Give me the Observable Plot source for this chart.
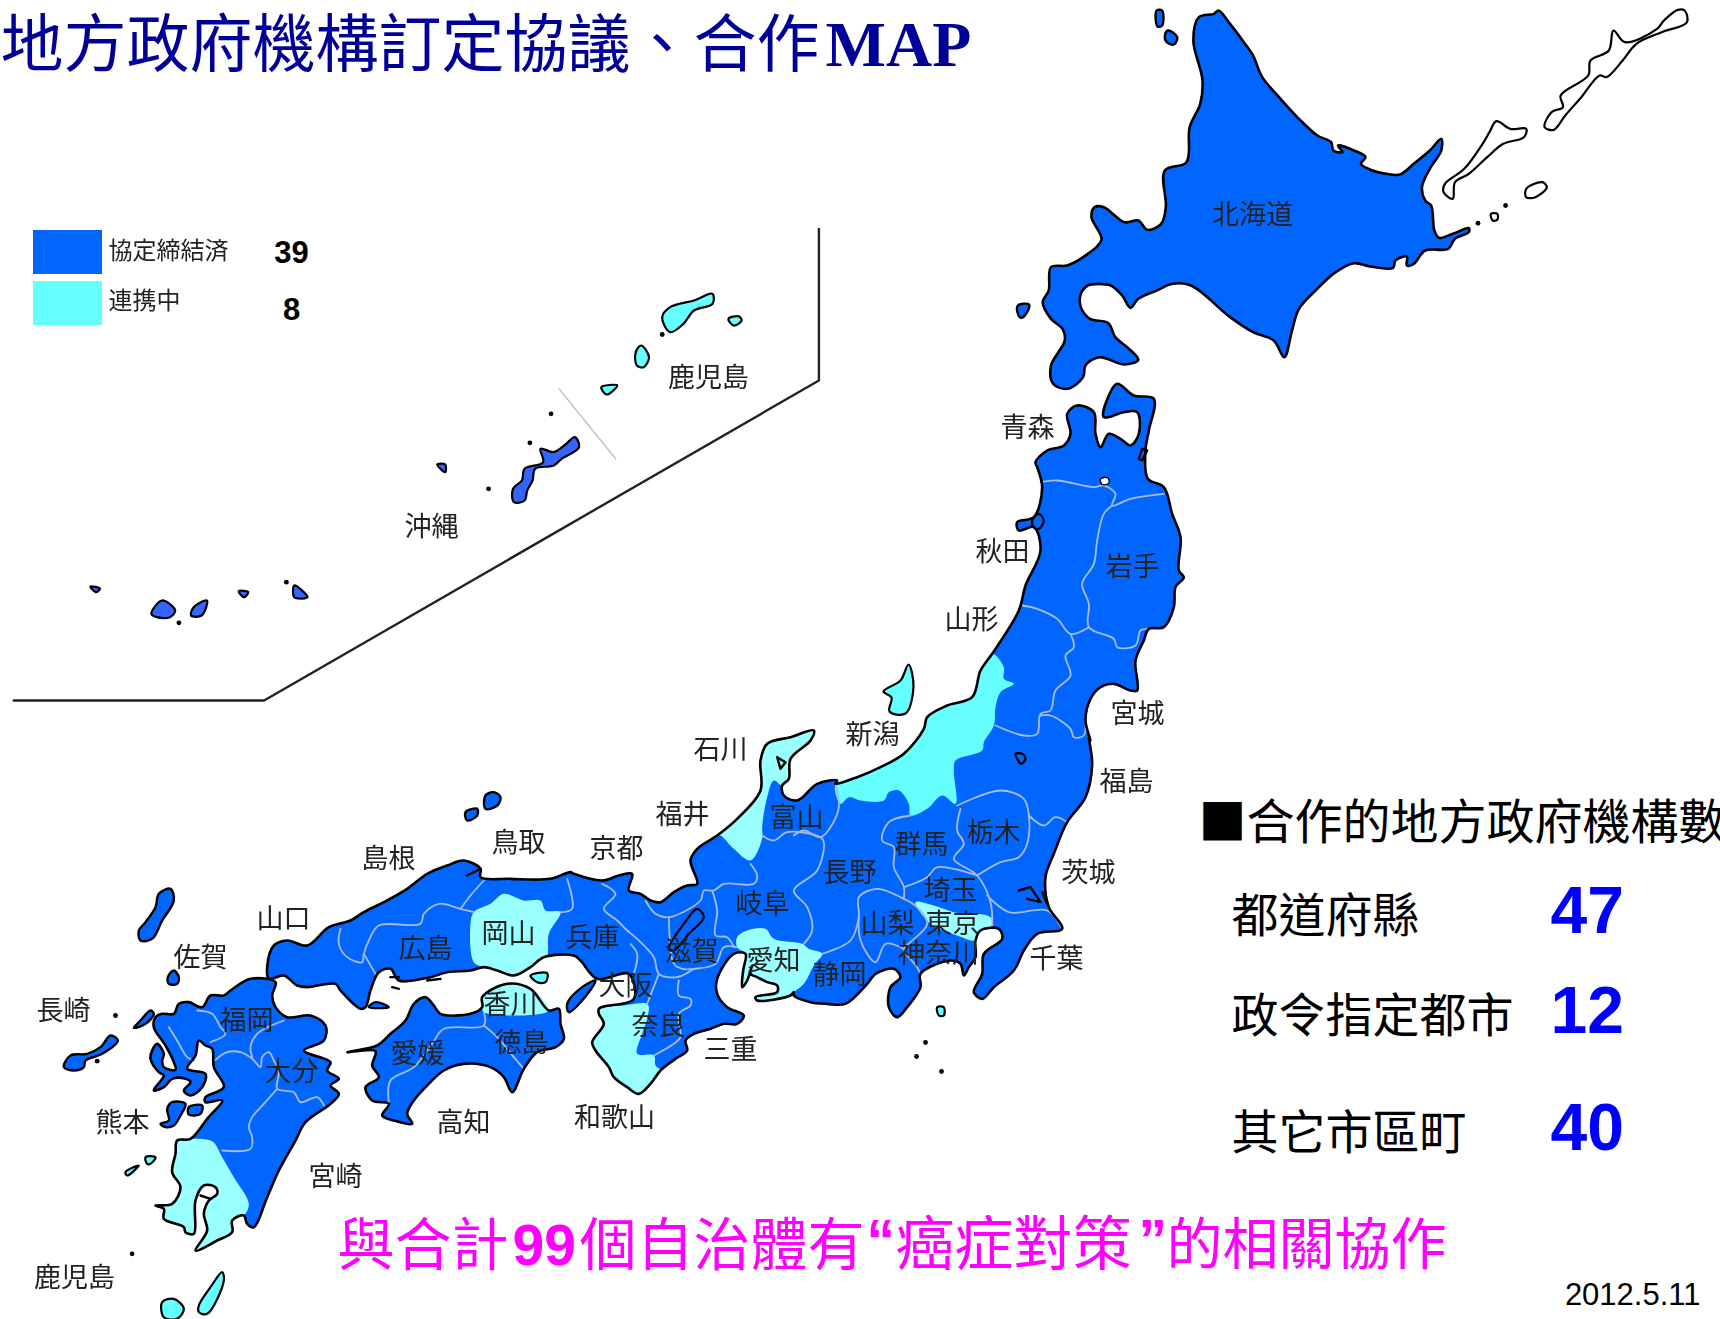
<!DOCTYPE html>
<html><head><meta charset="utf-8">
<script src="https://cdn.jsdelivr.net/npm/d3@7"></script>
<script src="https://cdn.jsdelivr.net/npm/@observablehq/plot@0.6"></script>
<style>
html,body{margin:0;padding:0;background:#fff}
svg{display:block}
g[aria-label="line"]{filter:blur(.5px)}
g[aria-label="text"][font-family*="CJK JP"]{filter:blur(.6px)}
</style></head><body><div id="chart"></div>
<script>
const read = (x0, y0, fx, fy, v) => { const o = []; for (let i = 0; i < v.length; i += 2) o.push([x0 + v[i] / fx, y0 + v[i + 1] / fy]); return o; };
const N = v => read(1000, 0, 2.178, 3, v);
const T = v => read(900, 370, 3, 3, v);
const K = v => read(760, 720, 3, 3, v);
const C = v => read(560, 720, 3, 3, v);
const W = v => read(250, 780, 3, 3, v);
const S = v => read(30, 870, 3, 3, v);
const O = v => read(0, 210, 1.889, 3, v);
const P = v => read(0, 0, 1, 1, v);
const R = v => read(570, 980, 3, 3, v);
const Q = v => read(130, 990, 3, 3, v);

const hokkaido = N([475,30,500,70,530,125,550,165,570,230,610,295,650,355,690,405,720,425,725,450,745,455,735,435,770,450,795,470,785,490,810,510,840,520,870,522,900,490,935,450,960,415,960,450,935,505,918,560,925,600,938,615,945,690,955,712,985,700,1020,683,1020,695,990,715,975,745,925,750,900,790,885,795,885,768,860,780,855,802,805,798,770,788,730,815,690,865,650,925,635,990,618,1070,595,1020,550,995,500,950,415,855,375,850,340,870,300,895,283,922,265,885,240,855,215,850,190,855,175,880,175,920,195,955,235,968,250,1010,280,1045,300,1078,270,1092,215,1070,185,1095,180,1130,145,1165,115,1150,110,1095,140,1020,135,985,110,955,92,905,105,870,110,800,145,795,180,770,220,718,198,650,205,620,225,620,270,665,300,660,320,688,350,670,360,620,358,510,405,485,412,380,435,310,440,240,420,120,432,50,465,40]);
const hokkaidoIslands = [
  N([340,30,352,30,352,75,342,78]), N([365,90,385,110,378,132,362,125,358,105]), N([38,915,62,912,58,935,45,952,38,940])
];
const northernIslands = [
  N([1475,28,1490,30,1495,65,1440,95,1385,130,1355,180,1320,230,1305,225,1265,290,1230,345,1205,388,1185,380,1200,335,1225,320,1220,285,1280,225,1285,180,1325,150,1335,90,1360,125,1430,85,1445,60]),
  N([1080,362,1110,385,1145,385,1140,410,1095,430,1060,470,1020,520,990,545,985,595,965,575,968,550,1010,505,1050,430,1065,395]),
  N([1145,565,1180,545,1190,560,1165,590,1145,590]),
  N([1068,640,1082,640,1082,658,1072,660])
];

// Honshu coast, clockwise from Tsugaru
const coastTohokuEast = T([405,275,440,240,490,225,510,190,500,130,530,105,580,125,585,190,600,230,625,190,660,205,690,225,715,190,710,125,670,125,610,140,625,75,650,40,700,75,760,85,745,180,735,240,742,325,790,350,815,430,840,500,835,600,850,620,825,650,820,710,790,770,745,775,730,810,705,870,710,960,690,960,640,940,600,950,570,985,555,1050,570,1110]);
const coastKanto = K([985,50,995,130,975,230,920,305,880,400,855,470,865,560,905,625,830,640,790,690,760,750,700,800,665,835,640,815,665,760,670,700,725,655,715,625,660,630,645,660,645,710,625,740,610,765,600,730,570,720,480,760,480,800,440,860,410,890,385,860,390,800,420,770,400,745,345,760,320,790,255,850,200,850,150,845,100,825]);
const coastAichi = C([700,815,690,825,590,840,585,830,650,815,650,795,620,785,590,770,570,760,575,735,560,780,545,800,548,750,555,700]);
const coastIse = [...C([520,700,470,775,470,820,500,860,550,885]), ...R([500,130,460,130,420,145,370,160,345,180,350,210,315,235])];
const coastKii = R([270,270,240,310,205,340,170,320,130,290,115,260,75,210,65,185,100,130,85,100,85,85]);
const coastOsaka = C([130,858,220,835,205,760,110,775,60,720]);
const coastSetouchi = W([970,525,880,530,840,560,790,585,740,570,700,560,660,570,590,575,540,590,445,600,420,565,385,575,360,630,345,680,330,685,270,630,255,610,170,620,140,615,100,585,55,595,50,560,70,495,110,480,170,495,235,440,300,420,340,395,400,365,470,325,530,280,590,255,640,240,690,265,690,290,780,295,900,295,960,275]);
const coastKyoto = C([40,460,125,480,175,465,215,460,205,510,240,520,270,540,300,545,340,515,380,495,410,490,390,420,410,385,470,345]);
const coastNoto = C([530,295,600,210,600,120,620,70,690,50,760,30,750,60,690,115,685,175,665,195]);
const coastToyama = C([670,225,710,240,770,190,830,180]);
const coastNiigata = K([225,190,290,170,360,140,430,100]).concat(T([70,1075,80,1040,140,1005,215,980,240,900,275,850]));
const coastTohokuWest = T([355,720,375,645,420,540,400,470,355,480,350,455,400,440,425,350,410,290]);
const honshu = [...coastTohokuEast, ...coastKanto, ...coastAichi, ...coastIse, ...coastKii, ...coastOsaka, ...coastSetouchi, ...coastKyoto, ...coastNoto, ...coastToyama, ...coastNiigata, ...coastTohokuWest];

const shikoku = W([380,795,420,760,465,720,490,670,525,650,550,675,570,700,660,700,695,680,695,650,770,610,840,625,895,690,925,685,930,730,940,775,915,800,860,815,820,865,785,935,760,890,720,860,640,850,580,870,530,915,490,960,470,1000,485,1030,430,1020,395,1005,415,970,365,960,345,920,385,890,365,855,375,812,290,815]);
const kyushuSouthCoast = S([605,1050,605,1085,560,1110,495,1140,530,1080,520,1030,535,990,560,970,555,950,520,945,495,990,490,1090,465,1085,460,1070,400,1045,400,1015,375,1005,425,1000,450,950,425,905,435,850,440,810,480,805]);
const kyushu = [...S([735,335,725,375,735,410,770,440,840,435,885,465,880,510,820,540,900,575,890,600,925,625,900,645,925,670,900,700,825,755,795,810,745,900,710,980,670,1070,650,1060,640,1035]), ...kyushuSouthCoast, ...S([530,745]), ...Q([275,330,225,335,225,320,280,290,250,230,245,175,225,165,205,150,195,195,170,235,225,250,215,290,180,315,160,300,180,275,165,265,125,265,100,290,70,300,75,290,100,255,85,245,60,205,65,180,80,160,100,190,95,210,100,230,135,238,130,215,105,165,70,110,75,80,95,70,130,70,145,40,175,35,215,50,240,15,280,15,300,0]), ...S([660,325])];

const blueIslands = [
  S([420,55,430,90,395,150,365,205,330,210,325,180,345,155,375,110,385,70]),
  S([430,300,445,320,440,340,415,340,412,320]),
  Q([60,60,70,70,45,100,10,112,30,90]),
  S([240,495,262,510,215,550,165,570,160,590,130,600,100,590,120,555,170,550,210,530]),
  Q([125,335,165,340,150,375,130,405,105,410,90,400,115,390,110,355]),
  Q([175,350,215,345,210,370,175,372]),
  C([105,780,65,840,25,875,20,850,65,800]),
  W([705,45,730,35,750,50,740,75,705,85]),
  W([645,95,680,85,680,105,650,120]),
  W([355,680,375,665,415,680])
];
const okinawaIslands = [
  O([1085,680,1093,710,1060,745,1045,765,1010,775,1005,810,995,840,990,870,970,875,968,835,985,810,990,775,1025,755,1020,715,1045,725,1065,705]),
  O([825,762,840,762,840,785]),
  O([285,1210,305,1170,330,1200,320,1220,295,1220]),
  O([360,1215,365,1190,390,1170,380,1215]),
  O([170,1128,188,1135,180,1145]),
  O([450,1142,468,1145,460,1160]),
  O([555,1125,580,1160,555,1160])
];
const lakes = [
  T([345,1150,365,1150,375,1165,362,1180,350,1165]),
  T([415,430,430,450,415,475,400,470,395,450]),
  C([410,565,430,590,385,640,340,690,325,685,370,610])
];
const whiteHoles = [T([600,325,622,322,625,338,605,342])];
const cyanIslands = [
  S([575,1205,580,1230,530,1330,505,1325,505,1305,540,1250]),
  S([395,1295,430,1285,460,1315,440,1345,400,1340]),
  S([345,860,375,860,360,880,350,880]),
  S([325,885,290,915,285,905]),
  W([840,585,890,578,885,605,860,605]),
  P([908,664,913,686,905,713,889,711,891,697,883,691,900,680]),
  K([530,860,550,860,550,885,535,885]),
  O([1345,250,1345,280,1310,300,1290,340,1265,365,1250,320,1265,290,1310,270]),
  O([1375,325,1395,318,1400,330,1385,345]),
  O([1210,405,1225,440,1215,470,1202,465,1200,425]),
  O([1135,530,1165,525,1145,552])
];
const tinyIslets = [
  ...N([1040,668,1100,615]), ...S([255,435,200,572,305,1150]),
  ...O([1040,610,1000,697,922,835,1250,372,337,1237,540,1115]),
  ...P([925,1042,916,1056,941,1071])
];

// Prefectures still in liaison
const niigata = [...coastNiigata, ...T([310,890,310,925,340,940,300,965,285,1010,280,1065,250,1115,245,1140,165,1170]), ...K([580,150,585,250,545,225,500,265,450,285,445,250,415,210,385,215,370,240,300,240,265,230,240,250])];
const ishikawaFukui = [...C([470,345]), ...coastNoto, ...C([640,180,620,230,605,320,605,355,570,420,520,385,480,345])];
const tokyo = K([465,545,520,555,580,575,690,590,695,625,660,630,645,660,590,645,550,630,510,610]);
const aichi = [...C([530,650,560,630,615,625,640,655,725,670,745,685,785,700,760,735,730,790]), ...coastAichi, ...C([530,680])];
const wakayama = [...coastKii, ...R([160,75,232,72,230,115,215,160,200,220,250,225,255,255])];
const okayama = W([670,395,720,370,760,340,820,360,870,360,885,390,930,395,895,460,890,525,880,530,840,560,790,585,740,570,700,560,670,545,660,430]);
const kagawa = W([695,680,695,650,770,610,840,625,895,690,700,695]);
const kagoshima = [...S([480,805,545,812,575,860,610,920,655,1000,640,1035]), ...kyushuSouthCoast];

const borders = [
  T([420,335,470,330,580,350,610,345,645,370,635,405,690,385,790,370]),
  T([635,405,610,430,590,510,580,580,545,640,565,700,565,770,640,805,650,830,705,825,720,780,745,775]),
  T([365,705,410,715,470,745,510,790,565,770]),
  T([510,790,520,830,495,855,510,915,465,960,450,1020,420,1030,410,1090,370,1095,285,1065]),
  T([420,1035,450,1035,510,1075,520,1100,550,1095,555,1050]),
  K([225,190,235,260,210,320,180,350,130,330,100,345]),
  C([605,345,640,360,680,335,780,350,790,365,770,450,700,510,740,560,755,630,730,670]),
  K([185,700,270,660,295,590,295,530,350,505,430,535,470,560,500,610,450,665,430,685,470,740,480,760]),
  K([450,285,385,305,365,360,400,380,400,440,430,500,430,535]),
  K([430,500,500,470,530,440,650,465]),
  K([600,265,590,330,610,370,580,415,650,465,690,545,695,625]),
  K([590,255,720,210,790,235,805,285,800,370,775,410,720,425,650,465]),
  K([805,285,850,315,885,290,920,305]),
  K([680,525,745,575,860,570,905,625]),
  K([295,590,300,660,345,725,375,670,430,685]),
  C([125,490,165,520,130,565,170,600,200,630,230,655,280,710,295,760,350,770,400,745]),
  C([210,670,230,700,220,760]),
  C([255,540,285,580,325,590,420,540,430,510,460,510,490,490,580,490,590,465,570,430]),
  C([325,590,330,680,340,730,365,745,400,745,465,730,490,680,530,680]),
  C([455,510,470,570,465,645,500,650,520,680]),
  R([325,0,325,45,360,55,360,75,325,100,330,170,310,190,250,225]),
  C([295,760,260,850]),
  W([950,295,965,385,930,395]),
  W([270,445,265,490,290,530,335,545,340,520,355,480,385,435,510,430,520,400,565,370,630,385,670,395]),
  W([340,520,375,580]),
  W([630,385,660,345,700,300]),
  W([700,695,700,735,580,745,545,790,490,860,420,900,415,965]),
  W([700,735,740,770,790,830,820,865]),
  W([895,690,925,685]),
  S([415,470,440,510,470,560,490,570]),
  S([500,420,545,430,570,470,585,490,540,515]),
  S([760,450,680,490,660,530,665,560]),
  S([555,568,590,545,630,545,665,565,690,590,695,560,715,545,730,570,745,605,740,655,790,665,810,695,860,680,880,705]),
  S([740,655,700,700,665,740,655,770,665,800,660,835,575,840])
];
const darkMarks = [
  K([775,510,810,500,840,545,800,535]), K([845,515,860,550]),
  T([725,235,740,240,725,270,715,265,725,235]),
  W([650,285,690,265]), W([420,590,445,590]), W([530,600,570,595]), W([425,620,445,625]),
  C([650,110,675,125,660,145,650,110]),
  S([510,975,540,985])
];

const insetFrame = O([1546,55,1546,510,498,1470,25,1470]);
const insetDivider = O([1055,535,1162,745]);

const prefectureNames = ["北海道","青森","秋田","岩手","山形","宮城","福島","新潟","石川","福井","富山","鳥取","京都","島根","群馬","栃木","長野","茨城","埼玉","岐阜","山口","山梨","東京","岡山","兵庫","広島","佐賀","滋賀","愛知","千葉","神奈川","静岡","大阪","香川","奈良","長崎","福岡","三重","徳島","愛媛","大分","熊本","高知","和歌山","宮崎","鹿児島","鹿児島","沖縄"];
const nameX = [1252,1027,1002,1132,971,1137,1126,872,720,682,796,518,616,388,921,993,849,1088,950,762,283,887,952,508,592,425,200,691,773,1056,938,839,625,510,658,63,246,730,521,417,291,122,463,614,335,74,708,431];
const nameY = [215,428,552,567,620,714,782,735,750,815,818,843,849,859,845,833,873,873,891,904,919,924,924,934,938,949,958,952,961,959,954,975,986,1005,1026,1011,1021,1050,1043,1054,1072,1123,1123,1118,1177,1278,378,527];
const labels = prefectureNames.map((t, i) => ({t, x: nameX[i], y: nameY[i]}));

const statNames = ["都道府縣","政令指定都市","其它市區町"];
const statValues = [47, 12, 40];
const statY = [916, 1016, 1133];
const statValueY = [911, 1011, 1128];
const legendNames = ["協定締結済","連携中"];
const legendCounts = [39, 8];
const legendColors = ["#0066ff","#66ffff"];
const legendY1 = [230, 281];
const legendY2 = [274, 325];

const rows = list => list.flatMap((ring, id) => ring.map(([x, y]) => ({x, y, id})));
const ROUND = "catmull-rom-closed";
const fillShape = (list, fill, stroke = "none", w = 0) => Plot.line(rows(list), {x: "x", y: "y", z: "id", fill, stroke, strokeWidth: w, curve: ROUND, strokeLinejoin: "round"});
const word = (text, x, y, size, color, family, weight = 400, anchor = "start") =>
  Plot.text([{text, x, y}], {x: "x", y: "y", text: "text", fontSize: size, fill: color, fontFamily: family, fontWeight: weight, textAnchor: anchor, lineAnchor: "middle"});

const TC = "Noto Sans CJK TC", SANS = "Liberation Sans", SERIF = "Liberation Serif";
const land = [hokkaido, honshu, shikoku, kyushu];
const cyanLand = [niigata];
const paleLand = [ishikawaFukui, tokyo, aichi, wakayama, okayama, kagawa, kagoshima];

const chart = Plot.plot({
  width: 1720, height: 1319, margin: 0,
  x: {domain: [0, 1720], axis: null},
  y: {domain: [1319, 0], axis: null},
  marks: [
    fillShape(land, "#0066ff"),
    fillShape(paleLand, "#99ffff"),
    fillShape(cyanLand, "#66ffff"),
    Plot.line(rows(borders), {x: "x", y: "y", z: "id", stroke: "#a9bbdc", strokeWidth: 1.8, curve: "catmull-rom"}),
    fillShape(land, "none", "#000", 2.6),
    fillShape(blueIslands, "#0066ff", "#000", 2.4),
    fillShape(okinawaIslands, "#3366ff", "#000", 2.2),
    fillShape(cyanIslands, "#66ffff", "#000", 2.2),
    fillShape(lakes, "#0066ff", "#000", 2.2),
    fillShape(northernIslands, "#fff", "#000", 2.2),
    fillShape(hokkaidoIslands, "#0066ff", "#000", 2.4),
    fillShape(whiteHoles, "#fff", "#000", 1.4),
    Plot.line(rows(darkMarks), {x: "x", y: "y", z: "id", stroke: "#000", strokeWidth: 2.4}),
    Plot.dot(tinyIslets, {x: d => d[0], y: d => d[1], r: 2.4, fill: "#000"}),
    Plot.line(insetFrame, {x: d => d[0], y: d => d[1], stroke: "#222", strokeWidth: 2.4}),
    Plot.line(insetDivider, {x: d => d[0], y: d => d[1], stroke: "#c4c4c4", strokeWidth: 1.5}),
    Plot.rect(legendNames, {x1: () => 33, x2: () => 102, y1: (d, i) => legendY1[i], y2: (d, i) => legendY2[i], fill: legendColors}),
    Plot.text(labels, {x: "x", y: "y", text: "t", fontSize: 27, fill: "#222", fontFamily: "Noto Sans CJK JP", lineAnchor: "middle"}),
    word(legendNames[0], 108, 251, 24, "#222", "Noto Sans CJK JP"),
    word(legendNames[1], 108, 301, 24, "#222", "Noto Sans CJK JP"),
    word(String(legendCounts[0]), 291, 253, 31, "#000", SANS, 700, "middle"),
    word(String(legendCounts[1]), 291, 310, 31, "#000", SANS, 700, "middle"),
    word("地方政府機構訂定協議、合作", 0, 45, 63, "#000099", TC),
    word("MAP", 825, 45, 64, "#000099", SERIF, 700),
    word("■合作的地方政府機構數", 1198, 823, 48, "#000", TC),
    ...statNames.map((t, i) => word(t, 1231, statY[i], 47, "#000", TC)),
    ...statValues.map((v, i) => word(String(v), 1550, statValueY[i], 66, "#0000ff", SANS, 700)),
    word("與合計", 337, 1246, 57, "#ff00ff", TC),
    word("99", 512, 1246, 57, "#ff00ff", SANS, 700),
    word("個自治體有", 579, 1246, 57, "#ff00ff", TC),
    word("“", 866, 1241, 57, "#ff00ff", SANS, 700),
    word("癌症對策", 895, 1246, 59, "#ff00ff", TC),
    word("”", 1138, 1241, 57, "#ff00ff", SANS, 700),
    word("的相關協作", 1166, 1246, 56, "#ff00ff", TC),
    word("2012.5.11", 1700, 1295, 31, "#000", SANS, 400, "end")
  ]
});
document.getElementById("chart").append(chart);
</script></body></html>
